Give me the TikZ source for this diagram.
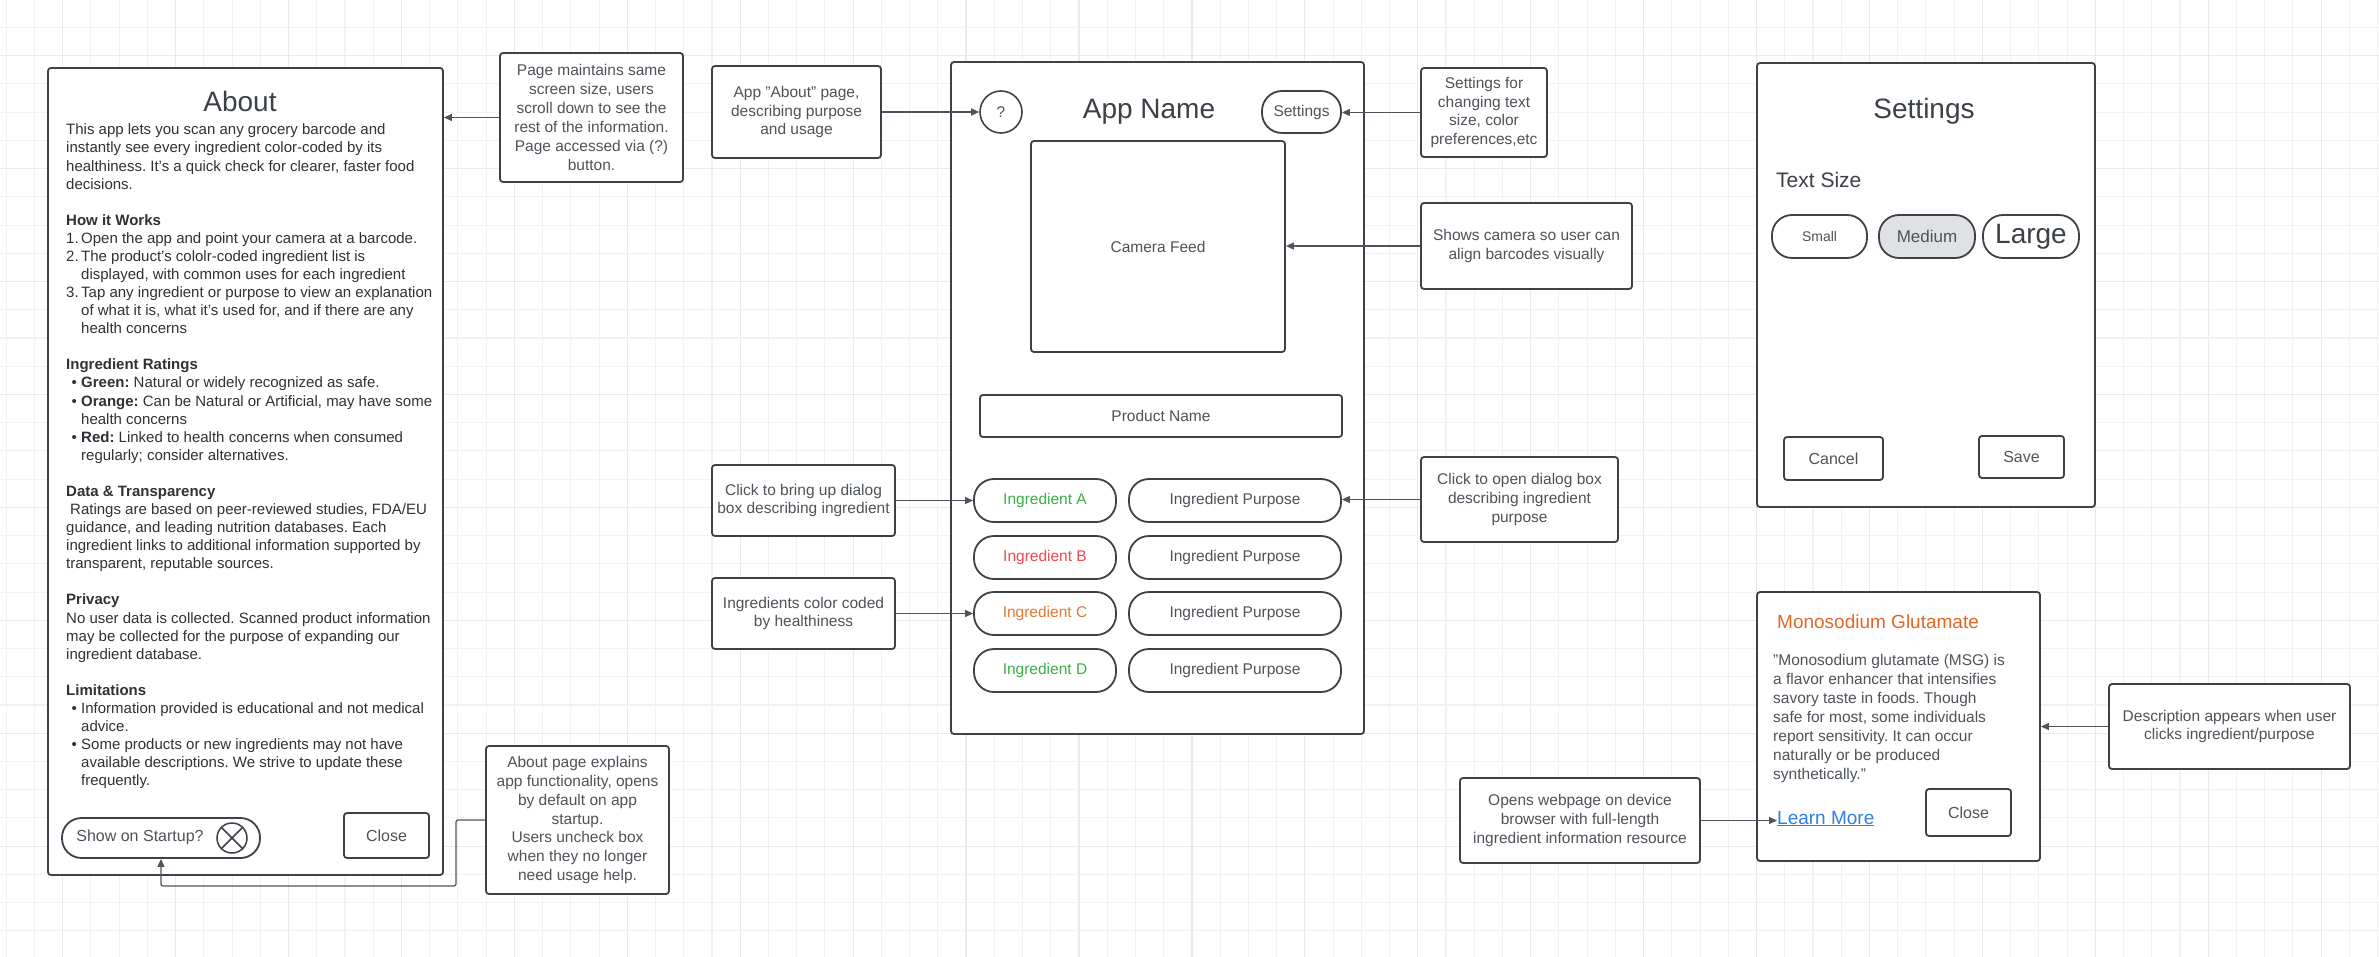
\documentclass[tikz,border=0pt]{standalone}
\usepackage{fontspec}
\setmainfont{Liberation Sans}
\usetikzlibrary{arrows.meta}
\definecolor{bordercol}{HTML}{3E4147}
\definecolor{conncol}{HTML}{50545A}
\definecolor{notetext}{HTML}{4E535A}
\definecolor{titlecol}{HTML}{3C4047}
\definecolor{bodycol}{HTML}{2E3237}
\definecolor{gridminor}{HTML}{F2F2F2}
\definecolor{gridmajor}{HTML}{EAEAEA}
\definecolor{ingGreen}{HTML}{3DAE49}
\definecolor{ingRed}{HTML}{EE4950}
\definecolor{ingOrange}{HTML}{E5772F}
\definecolor{msgOrange}{HTML}{E0672A}
\definecolor{linkBlue}{HTML}{2F7FEA}
\definecolor{mediumfill}{HTML}{DFE1E5}
\newcommand\fnote{\fontsize{15.5}{18.9}\selectfont}
\newcommand\fbody{\fontsize{15}{18.08}\selectfont}
\newcommand\fbig{\fontsize{28}{32}\selectfont}
\newcommand\fbtn{\fontsize{16}{19}\selectfont}
\frenchspacing
\tikzset{
  box/.style={draw=bordercol, line width=1.8pt, fill=white, rounded corners=3pt, inner sep=0pt, text=notetext, font=\fnote, align=center},
  pill/.style={box, rounded corners=20pt},
  conn/.style={conncol, line width=1.2pt, -{Triangle[length=8pt,width=7pt]}},
}
\begin{document}
\begin{tikzpicture}[x=1pt,y=-1pt]
\useasboundingbox (0,0) rectangle (2379,957);
\fill[white] (0,0) rectangle (2379,957);
% grid
\foreach \k in {0,...,84}{
  \pgfmathsetmacro\gx{6.24+\k*28.23}
  \pgfmathtruncatemacro\gm{mod(\k,4)}
  \ifnum\gm=2 \draw[gridmajor, line width=1.2pt] (\gx,0) -- (\gx,957);
  \else \draw[gridminor, line width=1.1pt] (\gx,0) -- (\gx,957); \fi
}
\foreach \k in {0,...,33}{
  \pgfmathsetmacro\gy{27.47+\k*28.23}
  \pgfmathtruncatemacro\gm{mod(\k,4)}
  \ifnum\gm=1 \draw[gridmajor, line width=1.2pt] (0,\gy) -- (2379,\gy);
  \else \draw[gridminor, line width=1.1pt] (0,\gy) -- (2379,\gy); \fi
}

% ---------------- About page ----------------
\node[box, minimum width=395pt, minimum height=807pt] (about) at (245.5,471.5) {};
\node[font=\fbig, text=titlecol, anchor=base] (abouttitle) at (240,111.5) {About};
\node[font=\fbody, text=bodycol, align=left, anchor=north west, inner sep=0pt] (aboutbody) at (66,122) {\strut This app lets you scan any grocery barcode and\\
instantly see every ingredient color-coded by its\\
healthiness. It’s a quick check for clearer, faster food\\
decisions.\\
\strut\\
\textbf{How it Works}\\
\makebox[15pt][l]{1.}Open the app and point your camera at a barcode.\\
\makebox[15pt][l]{2.}The product’s cololr-coded ingredient list is\\
\hspace*{15pt}displayed, with common uses for each ingredient\\
\makebox[15pt][l]{3.}Tap any ingredient or purpose to view an explanation\\
\hspace*{15pt}of what it is, what it's used for, and if there are any\\
\hspace*{15pt}health concerns\\
\strut\\
\textbf{Ingredient Ratings}\\
\hspace*{5.5pt}\makebox[9.5pt][l]{•}\textbf{Green:} Natural or widely recognized as safe.\\
\hspace*{5.5pt}\makebox[9.5pt][l]{•}\textbf{Orange:} Can be Natural or Artificial, may have some\\
\hspace*{15pt}health concerns\\
\hspace*{5.5pt}\makebox[9.5pt][l]{•}\textbf{Red:} Linked to health concerns when consumed\\
\hspace*{15pt}regularly; consider alternatives.\\
\strut\\
\textbf{Data \& Transparency}\\
\hspace*{4pt}Ratings are based on peer-reviewed studies, FDA/EU\\
guidance, and leading nutrition databases. Each\\
ingredient links to additional information supported by\\
transparent, reputable sources.\\
\strut\\
\textbf{Privacy}\\
No user data is collected. Scanned product information\\
may be collected for the purpose of expanding our\\
ingredient database.\\
\strut\\
\textbf{Limitations}\\
\hspace*{5.5pt}\makebox[9.5pt][l]{•}Information provided is educational and not medical\\
\hspace*{15pt}advice.\\
\hspace*{5.5pt}\makebox[9.5pt][l]{•}Some products or new ingredients may not have\\
\hspace*{15pt}available descriptions. We strive to update these\\
\hspace*{15pt}frequently.};
\node[pill, rounded corners=19.5pt, minimum width=198pt, minimum height=40pt] (show) at (161,838) {};
\node[font=\fbtn, text=notetext] (showtxt) at (140,837) {Show on Startup?};
\node[draw=bordercol, line width=1.5pt, circle, minimum size=30pt, inner sep=0pt] (xbtn) at (232,838) {};
\draw[bordercol, line width=1.5pt] (xbtn.north west) -- (xbtn.south east) (xbtn.north east) -- (xbtn.south west);
\node[box, minimum width=85pt, minimum height=45pt, font=\fbtn] (aboutclose) at (386.5,835.5) {Close};

% notes for About
\node[box, minimum width=183pt, minimum height=129pt] (n1) at (591.5,117.5) {Page maintains same\\screen size, users\\scroll down to see the\\rest of the information.\\Page accessed via (?)\\button.};
\draw[conn] (n1.west) -- (n1.west -| about.east);
\node[box, minimum width=183pt, minimum height=148pt] (n2) at (577.5,820) {About page explains\\app functionality, opens\\by default on app\\startup.\\Users uncheck box\\when they no longer\\need usage help.};
\coordinate (c1) at (456,886);
\draw[conn, rounded corners=2pt] (n2.west) -| (c1) -| (show.south);

% ---------------- Main phone ----------------
\node[box, minimum width=413pt, minimum height=672pt] (phone) at (1157.5,398) {};
\node[draw=bordercol, line width=1.6pt, circle, minimum size=42pt, inner sep=0pt, fill=white, text=notetext, font=\fnote] (help) at (1001,112) {?};
\node[font=\fbig, text=titlecol, anchor=base] (appname) at (1149,118.3) {App Name};
\node[pill, minimum width=79pt, minimum height=42pt] (setbtn) at (1301.5,112) {Settings};
\node[box, minimum width=254pt, minimum height=211pt] (camera) at (1158,246.5) {Camera Feed};
\node[box, minimum width=362pt, minimum height=42pt] (product) at (1161,416) {Product Name};
\node[pill, minimum width=142pt, minimum height=43pt, text=ingGreen] (ingA) at (1045,500.5) {Ingredient A};
\node[pill, minimum width=142pt, minimum height=43pt, text=ingRed] (ingB) at (1045,557.5) {Ingredient B};
\node[pill, minimum width=142pt, minimum height=43pt, text=ingOrange] (ingC) at (1045,613.5) {Ingredient C};
\node[pill, minimum width=142pt, minimum height=43pt, text=ingGreen] (ingD) at (1045,670.5) {Ingredient D};
\node[pill, minimum width=212pt, minimum height=43pt] (purA) at (1235,500.5) {Ingredient Purpose};
\node[pill, minimum width=212pt, minimum height=43pt] (purB) at (1235,557.5) {Ingredient Purpose};
\node[pill, minimum width=212pt, minimum height=43pt] (purC) at (1235,613.5) {Ingredient Purpose};
\node[pill, minimum width=212pt, minimum height=43pt] (purD) at (1235,670.5) {Ingredient Purpose};

% left notes
\node[box, minimum width=169pt, minimum height=92pt] (nabout) at (796.5,112) {App "About" page,\\describing purpose\\and usage};
\draw[conn] (nabout.east) -- (help.west);
\node[box, minimum width=183pt, minimum height=71pt] (nclick) at (803.5,500.5) {Click to bring up dialog\\box describing ingredient};
\draw[conn] (nclick.east) -- (ingA.west);
\node[box, minimum width=183pt, minimum height=71pt] (ncolor) at (803.5,613.5) {Ingredients color coded\\by healthiness};
\draw[conn] (ncolor.east) -- (ingC.west);

% right notes
\node[box, minimum width=126pt, minimum height=89pt] (nset) at (1484,112.5) {Settings for\\changing text\\size, color\\preferences,etc};
\draw[conn] (nset.west) -- (nset.west -| setbtn.east);
\node[box, minimum width=211pt, minimum height=86pt] (ncam) at (1526.5,246) {Shows camera so user can\\align barcodes visually};
\draw[conn] (ncam.west) -- (ncam.west -| camera.east);
\node[box, minimum width=197pt, minimum height=85pt] (npurp) at (1519.5,499.5) {Click to open dialog box\\describing ingredient\\purpose};
\draw[conn] (npurp.west) -- (npurp.west -| purA.east);

% ---------------- Settings screen ----------------
\node[box, minimum width=338pt, minimum height=444pt] (setscreen) at (1926,285) {};
\node[font=\fbig, text=titlecol, anchor=base] (settitle) at (1924,118.3) {Settings};
\node[font=\fontsize{21}{25}\selectfont, text=titlecol, anchor=west, inner sep=0pt] (textsize) at (1776,180) {Text Size};
\node[pill, minimum width=95pt, minimum height=43pt, font=\fontsize{14}{17}\selectfont] (small) at (1819.5,236.5) {Small};
\node[pill, fill=mediumfill, minimum width=96pt, minimum height=43pt, font=\fontsize{17}{20}\selectfont] (medium) at (1927,236.5) {Medium};
\node[pill, minimum width=96pt, minimum height=43pt, font=\fbig, text=titlecol] (large) at (2031,236.5) {Large};
\node[box, minimum width=99pt, minimum height=43pt, font=\fbtn] (cancel) at (1833.5,458.5) {Cancel};
\node[box, minimum width=85pt, minimum height=42pt, font=\fbtn] (save) at (2021.5,457) {Save};

% ---------------- MSG dialog ----------------
\node[box, minimum width=283pt, minimum height=269pt] (msg) at (1898.5,726.5) {};
\node[font=\fontsize{19}{22}\selectfont, text=msgOrange, anchor=west, inner sep=0pt] (msgtitle) at (1777,622) {Monosodium Glutamate};
\node[font=\fnote, text=notetext, align=left, anchor=north west, inner sep=0pt] (msgbody) at (1773,652.3) {\strut "Monosodium glutamate (MSG) is\\a flavor enhancer that intensifies\\savory taste in foods. Though\\safe for most, some individuals\\report sensitivity. It can occur\\naturally or be produced\\synthetically."};
\node[font=\fontsize{19}{22}\selectfont, text=linkBlue, anchor=base west, inner sep=0pt] (learn) at (1777,824) {\underline{Learn More}};
\node[box, minimum width=85pt, minimum height=47pt, font=\fbtn] (msgclose) at (1968.5,812.5) {Close};
\node[box, minimum width=241pt, minimum height=85pt] (ndesc) at (2229.5,726.5) {Description appears when user\\clicks ingredient/purpose};
\draw[conn] (ndesc.west) -- (ndesc.west -| msg.east);
\node[box, minimum width=240pt, minimum height=85pt] (nweb) at (1580,820.5) {Opens webpage on device\\browser with full-length\\ingredient information resource};
\draw[conn] (nweb.east) -- (nweb.east -| learn.west);
\end{tikzpicture}
\end{document}
